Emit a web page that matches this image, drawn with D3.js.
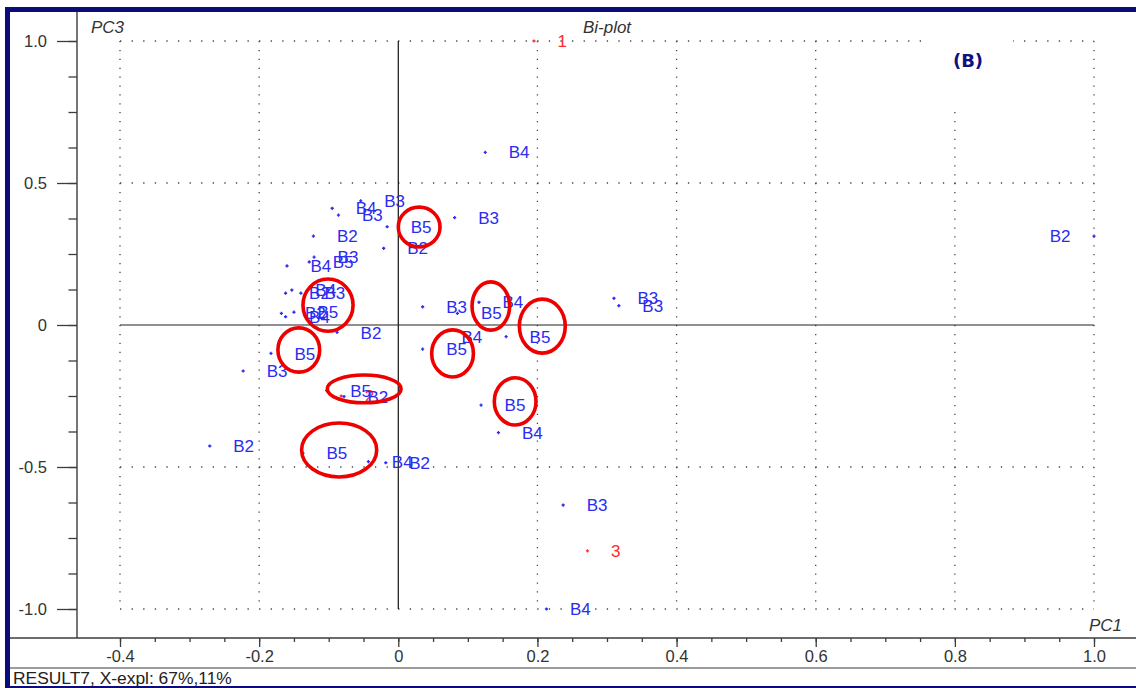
<!DOCTYPE html>
<html>
<head>
<meta charset="utf-8">
<script src="https://cdn.jsdelivr.net/npm/d3@7"></script>
<style>
  html, body { margin: 0; padding: 0; background: #fff; }
  svg { display: block; }
  text { font-family: "Liberation Sans", Arial, sans-serif; }
</style>
</head>
<body>
<svg id="chart" width="1136" height="688"></svg>
<script>
// Bi-plot of PC1 vs PC3: observation scores (B-labels) and variable loadings (red numbers)
const obsLabels = ["B4","B3","B5","B2","B3","B4","B3","B2","B4","B5","B3","B2","B4","B3","B2","B4","B5","B2","B5","B3",
                   "B5","B2","B2","B5","B4","B2","B3","B5","B4","B5","B4","B5","B5","B4","B3","B3","B3","B4","B2"];
const obsPC1 = [0.125, 0.081, -0.016, -0.021, -0.054, -0.095, -0.086, -0.122, -0.160, -0.128, -0.121, -0.162, -0.153, -0.140,
                -0.168, -0.162, -0.150, -0.088, -0.183, -0.223, -0.103, -0.078, -0.271, -0.137, -0.043, -0.018, 0.035, 0.085,
                0.116, 0.155, 0.057, 0.035, 0.119, 0.144, 0.310, 0.317, 0.237, 0.213, 1.000];
const obsPC3 = [0.608, 0.378, 0.346, 0.270, 0.437, 0.411, 0.387, 0.313, 0.208, 0.222, 0.239, 0.112, 0.123, 0.112,
                0.041, 0.029, 0.045, -0.026, -0.100, -0.162, -0.231, -0.252, -0.426, -0.451, -0.481, -0.485, 0.064, 0.041,
                0.080, -0.041, -0.042, -0.085, -0.282, -0.379, 0.094, 0.068, -0.634, -1.000, 0.313];

const varLabels = ["1", "2", "3"];
const varPC1 = [0.195, -0.082, 0.272];
const varPC3 = [1.000, -0.250, -0.795];

// tick values
const xMajorTicks = [-0.4, -0.2, 0, 0.2, 0.4, 0.6, 0.8, 1.0];
const yMajorTicks = [-1.0, -0.5, 0, 0.5, 1.0];

// hand-drawn highlight rings (centre and radii in PC units)
const ringCx = [0.030, -0.101, -0.143, -0.049, -0.085, 0.078, 0.133, 0.207, 0.168];
const ringCy = [0.345, 0.070, -0.088, -0.225, -0.440, -0.100, 0.067, -0.004, -0.269];
const ringRx = [0.030, 0.036, 0.030, 0.053, 0.054, 0.030, 0.027, 0.033, 0.030];
const ringRy = [0.070, 0.092, 0.078, 0.049, 0.095, 0.083, 0.085, 0.095, 0.083];

const svg = d3.select("#chart");
const W = 1136, H = 688;

const x = d3.scaleLinear().domain([-0.4, 1.0]).range([120, 1094]);
const y = d3.scaleLinear().domain([-1.0, 1.0]).range([609, 41]);

const axisX = 77;      // left axis line
const axisY = 638;     // bottom axis line
const frameL = 10, frameT = 12;

const navy = "#0b0b7a";
const axisCol = "#3c3c3c";
const blue = "#2b2bf2";
const red = "#ff2a2a";

// window frame
svg.append("rect").attr("x", 0).attr("y", 0).attr("width", W).attr("height", H).attr("fill", "#fff");
svg.append("rect").attr("x", 5).attr("y", 7).attr("width", W - 5).attr("height", 5).attr("fill", navy);
svg.append("rect").attr("x", 5).attr("y", 7).attr("width", 5).attr("height", H - 7).attr("fill", navy);

// dotted grid
const grid = svg.append("g").attr("stroke", "#444").attr("stroke-width", 1.3);
grid.selectAll("line.gx").data(xMajorTicks.filter(d => d !== 0)).join("line")
  .attr("x1", d => x(d)).attr("x2", d => x(d))
  .attr("y1", y(1)).attr("y2", y(-1))
  .attr("stroke-dasharray", "1.3 7.575");
grid.selectAll("line.gy").data(yMajorTicks.filter(d => d !== 0)).join("line")
  .attr("y1", d => y(d)).attr("y2", d => y(d))
  .attr("x1", x(-0.4)).attr("x2", x(1.0))
  .attr("stroke-dasharray", "1.3 10.29");

// solid zero lines
svg.append("line").attr("x1", x(0)).attr("x2", x(0)).attr("y1", y(1)).attr("y2", y(-1))
  .attr("stroke", "#111").attr("stroke-width", 1.2);
svg.append("line").attr("x1", x(-0.4)).attr("x2", x(1.0)).attr("y1", y(0)).attr("y2", y(0))
  .attr("stroke", "#222").attr("stroke-width", 1.2);

// label box in the top-right corner
svg.append("rect").attr("x", 929).attr("y", 28).attr("width", 84).attr("height", 81).attr("fill", "#fff");
svg.append("text").attr("x", 968).attr("y", 61).attr("dy", "0.36em")
  .attr("text-anchor", "middle").attr("fill", "#10107e")
  .style("font-family", "'DejaVu Sans', Verdana, sans-serif")
  .style("font-weight", "bold").style("font-size", "18px").text("(B)");

// axes
const fmt = v => (Math.abs(v) < 1e-9 ? "0" : d3.format(".1f")(v).replace("\u2212", "-"));

const gx = svg.append("g").attr("transform", `translate(0,${axisY})`);
gx.call(d3.axisBottom(x).tickValues(d3.range(-0.4, 1.0001, 0.05)).tickSize(4).tickFormat(""));
gx.append("g").call(d3.axisBottom(x).tickValues(xMajorTicks).tickSize(9).tickPadding(3).tickFormat(fmt));
gx.selectAll(".domain").remove();

const gy = svg.append("g").attr("transform", `translate(${axisX},0)`);
gy.call(d3.axisLeft(y).tickValues(d3.range(-1.0, 1.0001, 0.125)).tickSize(8.5).tickFormat(""));
gy.append("g").call(d3.axisLeft(y).tickValues(yMajorTicks).tickSize(20).tickPadding(10).tickFormat(fmt));
gy.selectAll(".domain").remove();

svg.selectAll(".tick line").attr("stroke", axisCol).attr("stroke-width", 1.3);
svg.selectAll(".tick text").attr("fill", "#333").style("font-size", "16.5px")
  .style("font-family", "'Liberation Sans', Arial, sans-serif");

svg.append("line").attr("x1", axisX).attr("x2", axisX).attr("y1", frameT).attr("y2", axisY)
  .attr("stroke", axisCol).attr("stroke-width", 1.4);
svg.append("line").attr("x1", frameL).attr("x2", W).attr("y1", axisY).attr("y2", axisY)
  .attr("stroke", axisCol).attr("stroke-width", 1.4);
svg.append("line").attr("x1", frameL).attr("x2", W).attr("y1", 668).attr("y2", 668)
  .attr("stroke", axisCol).attr("stroke-width", 1.2);

// axis titles
const titleStyle = sel => sel.attr("fill", "#333").style("font-style", "italic").style("font-size", "17px");
svg.append("text").attr("x", 91).attr("y", 27).attr("dy", "0.36em").text("PC3").call(titleStyle);
svg.append("text").attr("x", 607).attr("y", 27).attr("dy", "0.36em").attr("text-anchor", "middle").text("Bi-plot").call(titleStyle);
svg.append("text").attr("x", 1122).attr("y", 625).attr("dy", "0.36em").attr("text-anchor", "end").text("PC1").call(titleStyle);

// status line
svg.append("text").attr("x", 13).attr("y", 684).attr("fill", "#222").style("font-size", "17.4px")
  .text("RESULT7, X-expl: 67%,11%");
svg.append("rect").attr("x", 5).attr("y", 686).attr("width", W - 5).attr("height", 2).attr("fill", navy);

// marks
const cross = "M-1.6,0H1.6M0,-1.6V1.6";
const labelOffset = 23.5;

const vars = varLabels.map((l, i) => ({ l, px: varPC1[i], py: varPC3[i] }));
const obs = obsLabels.map((l, i) => ({ l, px: obsPC1[i], py: obsPC3[i] }));

// loadings
svg.append("g").selectAll("path").data(vars).join("path")
  .attr("d", cross).attr("transform", d => `translate(${x(d.px)},${y(d.py)})`)
  .attr("stroke", red).attr("stroke-width", 1.3);
svg.append("g").selectAll("text").data(vars).join("text")
  .attr("x", d => x(d.px) + labelOffset).attr("y", d => y(d.py)).attr("dy", "0.36em")
  .attr("fill", red).style("font-size", "17px").text(d => d.l);

// scores
svg.append("g").selectAll("path").data(obs).join("path")
  .attr("d", cross).attr("transform", d => `translate(${x(d.px)},${y(d.py)})`)
  .attr("stroke", blue).attr("stroke-width", 1.4);
svg.append("g").selectAll("text").data(obs).join("text")
  .attr("x", d => d.px > 0.9 ? x(d.px) - labelOffset : x(d.px) + labelOffset)
  .attr("text-anchor", d => d.px > 0.9 ? "end" : "start")
  .attr("y", d => y(d.py)).attr("dy", "0.36em")
  .attr("fill", blue).style("font-size", "17px").text(d => d.l);

// highlight rings
const kx = x(1) - x(0), ky = y(0) - y(1);
svg.append("g").selectAll("ellipse").data(ringCx.map((c, i) => i)).join("ellipse")
  .attr("cx", i => x(ringCx[i])).attr("cy", i => y(ringCy[i]))
  .attr("rx", i => ringRx[i] * kx).attr("ry", i => ringRy[i] * ky)
  .attr("fill", "none").attr("stroke", "#ee0000").attr("stroke-width", 3.6);
</script>
</body>
</html>
